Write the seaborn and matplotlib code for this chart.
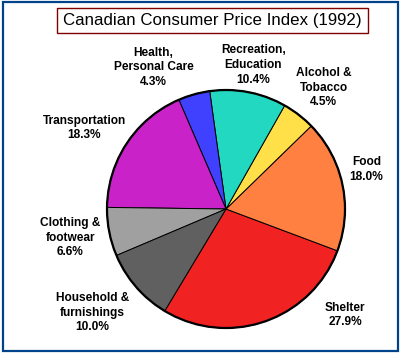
import matplotlib
matplotlib.use("Agg")
import matplotlib.pyplot as plt
import seaborn as sns
from matplotlib.patches import Rectangle, Circle

# CPI basket weights, 1992
categories = ["Shelter", "Food", "Alcohol &\nTobacco", "Recreation,\nEducation",
              "Health,\nPersonal Care", "Transportation", "Clothing &\nfootwear",
              "Household &\nfurnishings"]
weights = [27.9, 18.0, 4.5, 10.4, 4.3, 18.3, 6.6, 10.0]
colors = ["#F02222", "#FF8040", "#FFE048", "#22D8C0",
          "#4040FF", "#C822C8", "#A0A0A0", "#606060"]

# where the labels sit (pie radius = 1, centre at 0,0)
label_xy = [(1.00, -0.89), (1.18, 0.33), (0.82, 1.02), (0.23, 1.21),
            (-0.61, 1.19), (-1.19, 0.68), (-1.31, -0.24), (-1.12, -0.87)]

sns.set_style("white")
plt.rcParams["font.family"] = ["Liberation Sans", "DejaVu Sans"]
plt.rcParams["text.color"] = "black"

fig = plt.figure(figsize=(4.0, 3.54), dpi=100)
ax = fig.add_axes([0, 0, 1, 1])

wedges, _ = ax.pie(weights, colors=colors, startangle=-121, counterclock=True,
                   radius=1, center=(0, 0),
                   wedgeprops=dict(edgecolor="black", linewidth=0.7))
ax.add_patch(Circle((0, 0), 1, fill=False, edgecolor="black", linewidth=1.6))

for cat, w, (x, y) in zip(categories, weights, label_xy):
    ax.text(x, y, f"{cat}\n{w:.1f}%", ha="center", va="center",
            fontsize=8.6, fontweight="bold", linespacing=1.3, color="black")

# 119 px per unit, pie centre at pixel (226, 209)
ax.set_xlim(-226 / 119, (400 - 226) / 119)
ax.set_ylim(-(354 - 209) / 119, 209 / 119)
ax.set_aspect("auto")
ax.axis("off")

# title box
fig.text(212.5 / 400, 1 - 21 / 354, "Canadian Consumer Price Index (1992)",
         ha="center", va="center", fontsize=12.2, color="black")
fig.patches.append(Rectangle((57 / 400, 1 - 33 / 354), 311 / 400, 25 / 354,
                             transform=fig.transFigure, fill=False,
                             edgecolor="#800000", linewidth=1.0))
# outer frame
fig.patches.append(Rectangle((2.5 / 400, 1 - 351 / 354), 395 / 400, 349 / 354,
                             transform=fig.transFigure, fill=False,
                             edgecolor="#00438A", linewidth=1.6))

fig.savefig("out.png", dpi=100)
